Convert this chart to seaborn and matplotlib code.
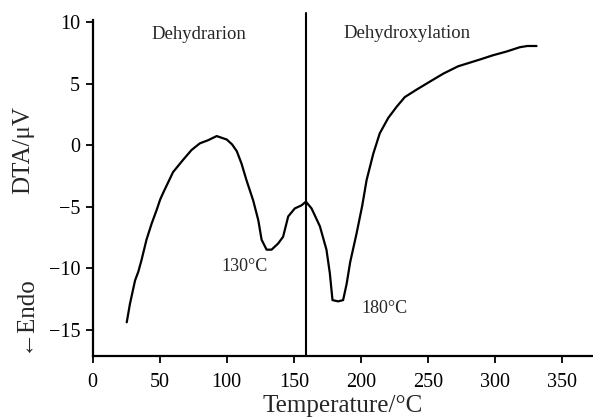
import numpy as np
import pandas as pd
import matplotlib
matplotlib.use("Agg")
import matplotlib.pyplot as plt
import seaborn as sns

# DTA curve
temperature = [25.5, 27.9, 31.7, 34.1, 36.5, 40.2, 44.0, 47.7, 50.5, 53.0, 60.0, 67.5,
               73.8, 80.0, 86.3, 92.5, 100.0, 104.0, 107.5, 111.0, 114.7, 119.7, 123.5, 126.0,
               129.7, 133.4, 138.3, 142.0, 145.8, 150.7, 155.7, 159.0, 163.2, 169.4,
               174.3, 176.8, 178.8, 183.0, 186.7, 189.3, 192.0, 196.7, 201.0, 204.2,
               209.2, 214.0, 220.3, 226.5, 232.7, 241.4, 251.3, 261.3, 272.4, 288.6,
               298.5, 308.5, 318.4, 324.0, 330.8]
dta = [-14.4, -12.9, -11.0, -10.3, -9.35, -7.7, -6.4, -5.3, -4.4, -3.8, -2.2, -1.2,
       -0.4, 0.14, 0.4, 0.73, 0.45, 0.05, -0.5, -1.5, -2.85, -4.5, -6.1, -7.7,
       -8.5, -8.5, -8.0, -7.45, -5.8, -5.15, -4.9, -4.6, -5.15, -6.6,
       -8.5, -10.4, -12.6, -12.7, -12.6, -11.3, -9.5, -7.2, -4.9, -2.85,
       -0.7, 0.95, 2.2, 3.1, 3.9, 4.5, 5.15, 5.8, 6.4, 6.95,
       7.3, 7.6, 7.95, 8.05, 8.05]

boundary_temp = 159
x_ticks = [0, 50, 100, 150, 200, 250, 300, 350]
y_ticks = [-15, -10, -5, 0, 5, 10]

df = pd.DataFrame({"Temperature": temperature, "DTA": dta})

sns.set_style("ticks")
serif = ["Liberation Serif", "DejaVu Serif"]
plt.rcParams["font.family"] = serif

fig = plt.figure(figsize=(5.93, 4.17), dpi=100)
ax = fig.add_axes([0.156, 0.146, 0.842, 0.806])

sns.lineplot(data=df, x="Temperature", y="DTA", ax=ax, color="black",
             linewidth=1.6, estimator=None, sort=False)

# boundary between the two stages (pokes a bit above the frame)
ax.plot([boundary_temp, boundary_temp], [-17.15, 10.75], color="black",
        linewidth=1.5, clip_on=False)

ax.set_xlim(0, 372)
ax.set_ylim(-17.15, 10.16)
ax.set_xticks(x_ticks)
ax.set_yticks(y_ticks)
ax.tick_params(axis="both", direction="out", length=5, width=1.3, labelsize=14.5,
               colors="black")
ax.tick_params(axis="x", pad=7)
ax.tick_params(axis="y", pad=4)

for s in ["top", "right"]:
    ax.spines[s].set_visible(False)
for s in ["left", "bottom"]:
    ax.spines[s].set_linewidth(1.6)
    ax.spines[s].set_color("black")

ax.set_xlabel("Temperature/°C", fontsize=18, labelpad=2)
ax.set_ylabel("")

# stage and peak labels
ax.text(79, 9.0, "Dehydrarion", fontsize=13.5, ha="center", va="center")
ax.text(234, 9.1, "Dehydroxylation", fontsize=13.5, ha="center", va="center")
ax.text(113.5, -9.85, "130°C", fontsize=13, ha="center", va="center")
ax.text(217.3, -13.3, "180°C", fontsize=13, ha="center", va="center")

# y axis label in two pieces
fig.text(0.039, 0.640, "DTA/μV", rotation=90, fontsize=18, ha="center", va="center")
fig.text(0.041, 0.249, "←Endo", rotation=90, fontsize=18, ha="center", va="center",
         family=serif)

fig.savefig("out.png", dpi=100)
